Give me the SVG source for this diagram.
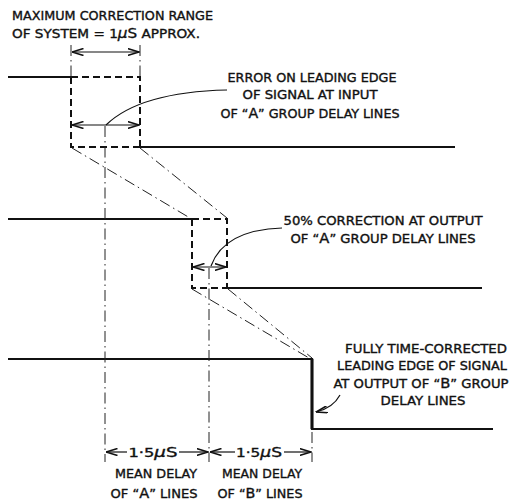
<svg xmlns="http://www.w3.org/2000/svg" width="509" height="504" viewBox="0 0 509 504">
<defs>
<style>
.sig{stroke:#111;stroke-width:2.2;fill:none}
.dsh{stroke:#111;stroke-width:2;fill:none;stroke-dasharray:7 4}
.dd{stroke:#222;stroke-width:1;fill:none;stroke-dasharray:11 4 1.5 4}
.ln{stroke:#111;stroke-width:1.2;fill:none}
.t{font-family:"DejaVu Sans Condensed","Liberation Sans Narrow","Liberation Sans",sans-serif;font-size:13px;fill:#111;stroke:#111;stroke-width:0.35}
.m{text-anchor:middle}
.big{font-size:14.5px}
</style>
<marker id="ah" viewBox="0 0 12 8" refX="11.5" refY="4" markerWidth="12" markerHeight="8" orient="auto-start-reverse" markerUnits="userSpaceOnUse">
<path d="M0,0.5 L11.5,4 L0,7.5" fill="none" stroke="#111" stroke-width="1.6"/>
</marker>
</defs>
<rect width="509" height="504" fill="#fff"/>

<g id="title">
<text class="t" x="12" y="20" textLength="201" lengthAdjust="spacingAndGlyphs">MAXIMUM CORRECTION RANGE</text>
<text class="t" x="12" y="38" textLength="188" lengthAdjust="spacingAndGlyphs">OF SYSTEM = 1<tspan class="big" font-style="italic">μ</tspan><tspan class="big">S</tspan> APPROX.</text>
</g>

<g id="signal-top">
<line class="sig" x1="8" y1="77" x2="71" y2="77"/>
<path class="dsh" d="M71,77 H140 V147"/>
<path class="dsh" d="M71,77 V147 H140"/>
<line class="sig" x1="140" y1="147" x2="455" y2="147"/>
</g>

<g id="signal-middle">
<line class="sig" x1="8" y1="219" x2="192" y2="219"/>
<path class="dsh" d="M192,219 H227 V288"/>
<path class="dsh" d="M192,219 V288 H227"/>
<line class="sig" x1="227" y1="288" x2="482" y2="288"/>
</g>

<g id="signal-bottom">
<path class="sig" d="M8,359 H312 V429 H493"/>
<line x1="312" y1="359" x2="312" y2="429" stroke="#111" stroke-width="3"/>
</g>

<g id="label-error">
<text class="t m" x="312" y="82" textLength="169" lengthAdjust="spacingAndGlyphs">ERROR ON LEADING EDGE</text>
<text class="t m" x="310" y="99" textLength="135" lengthAdjust="spacingAndGlyphs">OF SIGNAL AT INPUT</text>
<text class="t m" x="310" y="118" textLength="179" lengthAdjust="spacingAndGlyphs">OF “<tspan class="big">A</tspan>” GROUP DELAY LINES</text>
</g>

<g id="label-50">
<text class="t m" x="383" y="225" textLength="199" lengthAdjust="spacingAndGlyphs">50% CORRECTION AT OUTPUT</text>
<text class="t m" x="383" y="243" textLength="185" lengthAdjust="spacingAndGlyphs">OF “<tspan class="big">A</tspan>” GROUP DELAY LINES</text>
</g>

<g id="label-fully">
<text class="t m" x="426" y="353" textLength="162" lengthAdjust="spacingAndGlyphs">FULLY TIME-CORRECTED</text>
<text class="t m" x="422" y="370" textLength="170" lengthAdjust="spacingAndGlyphs">LEADING EDGE OF SIGNAL</text>
<text class="t m" x="421" y="388" textLength="175" lengthAdjust="spacingAndGlyphs">AT OUTPUT OF “<tspan class="big">B</tspan>” GROUP</text>
<text class="t m" x="423" y="405" textLength="85" lengthAdjust="spacingAndGlyphs">DELAY LINES</text>
</g>

<g id="label-delay-a">
<text class="t m" x="153" y="457" textLength="49" lengthAdjust="spacingAndGlyphs">1·5<tspan class="big" font-style="italic">μ</tspan><tspan class="big">S</tspan></text>
<text class="t m" x="156" y="478" textLength="82" lengthAdjust="spacingAndGlyphs">MEAN DELAY</text>
<text class="t m" x="154" y="498" textLength="87" lengthAdjust="spacingAndGlyphs">OF “<tspan class="big">A</tspan>” LINES</text>
</g>

<g id="label-delay-b">
<text class="t m" x="259" y="457" textLength="46" lengthAdjust="spacingAndGlyphs">1·5<tspan class="big" font-style="italic">μ</tspan><tspan class="big">S</tspan></text>
<text class="t m" x="262" y="478" textLength="80" lengthAdjust="spacingAndGlyphs">MEAN DELAY</text>
<text class="t m" x="260" y="498" textLength="85" lengthAdjust="spacingAndGlyphs">OF “<tspan class="big">B</tspan>” LINES</text>
</g>

<g id="connectors">
<line class="dd" x1="71" y1="45" x2="71" y2="77"/>
<line class="dd" x1="140" y1="45" x2="140" y2="77"/>
<line class="dd" x1="105" y1="126" x2="105" y2="462"/>
<line class="dd" x1="209" y1="268" x2="209" y2="462"/>
<line class="dd" x1="312" y1="432" x2="312" y2="462"/>
<line class="dd" x1="72" y1="148" x2="190" y2="218"/>
<line class="dd" x1="140" y1="148" x2="227" y2="218"/>
<line class="dd" x1="192" y1="289" x2="309" y2="358"/>
<line class="dd" x1="228" y1="289" x2="312" y2="358"/>
<line class="ln" x1="72" y1="52" x2="139" y2="52" marker-start="url(#ah)" marker-end="url(#ah)"/>
<line class="ln" x1="72" y1="125" x2="139" y2="125" marker-start="url(#ah)" marker-end="url(#ah)"/>
<line class="ln" x1="193" y1="267" x2="226" y2="267" marker-start="url(#ah)" marker-end="url(#ah)"/>
<line class="ln" x1="106" y1="452" x2="127" y2="452" marker-start="url(#ah)"/>
<line class="ln" x1="179" y1="452" x2="208" y2="452" marker-end="url(#ah)"/>
<line class="ln" x1="210" y1="452" x2="235" y2="452" marker-start="url(#ah)"/>
<line class="ln" x1="284" y1="452" x2="311" y2="452" marker-end="url(#ah)"/>
<path class="ln" d="M106,125 Q140,92 227,90"/>
<path class="ln" d="M211,266 Q224,230 282,228"/>
<path class="ln" d="M340,395 Q333,408 316,412" marker-end="url(#ah)"/>
</g>
</svg>
